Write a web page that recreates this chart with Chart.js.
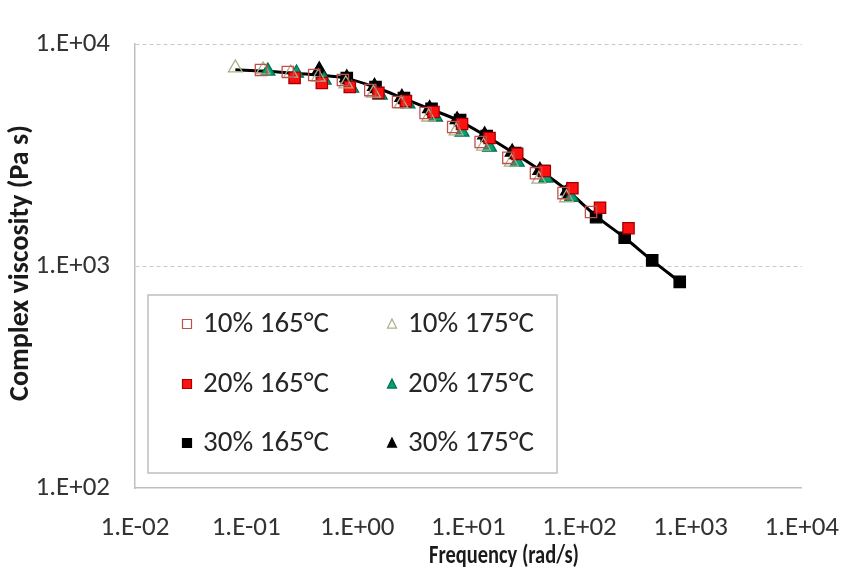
<!DOCTYPE html>
<html>
<head>
<meta charset="utf-8">
<script src="https://cdn.jsdelivr.net/npm/chart.js@4.4.1/dist/chart.umd.min.js"></script>
<style>
  html, body { margin: 0; padding: 0; background: #fff; }
  #wrap { width: 855px; height: 578px; }
</style>
</head>
<body>
<div id="wrap"><canvas id="chart" width="855" height="578"></canvas></div>
<script>
// axis ticks
const xTickValues = [0.01, 0.1, 1, 10, 100, 1000, 10000];
const xTickLabels = ["1.E-02", "1.E-01", "1.E+00", "1.E+01", "1.E+02", "1.E+03", "1.E+04"];
const yTickValues = [100, 1000, 10000];
const yTickLabels = ["1.E+02", "1.E+03", "1.E+04"];

const seriesNames = ["10% 165°C", "10% 175°C", "20% 165°C", "20% 175°C", "30% 165°C", "30% 175°C"];

// frequency (rad/s) and complex viscosity (Pa s)
const freq10_165 = [0.136, 0.237, 0.41, 0.743, 1.31, 2.33, 4.12, 7.3, 12.9, 22.9, 40.6, 71.8, 127];
const visc10_165 = [7640, 7480, 7250, 6880, 6200, 5480, 4890, 4230, 3620, 3070, 2620, 2130, 1750];

const freq10_175 = [0.08, 0.142, 0.252, 0.446, 0.789, 1.4, 2.48, 4.39, 7.76, 13.7, 24.4, 43.1, 76.4];
const visc10_175 = [7800, 7640, 7400, 7100, 6610, 6010, 5370, 4690, 4060, 3470, 2940, 2460, 2030];

const freq20_165 = [0.273, 0.48, 0.857, 1.55, 2.74, 4.85, 8.77, 15.5, 27.5, 48.7, 86.3, 153, 276];
const visc20_165 = [7040, 6670, 6400, 6020, 5530, 4940, 4360, 3770, 3200, 2680, 2240, 1830, 1480];

const freq20_175 = [0.157, 0.284, 0.504, 0.891, 1.61, 2.86, 5.06, 8.77, 15.5, 27.5, 49.8, 84.5];
const visc20_175 = [7550, 7400, 6880, 6330, 5890, 5370, 4690, 4010, 3430, 2940, 2490, 2040];

const freq30_165 = [0.805, 1.46, 2.63, 4.66, 8.43, 14.6, 26.4, 47.8, 79.6, 141, 255, 451, 798];
const visc30_165 = [7030, 6400, 5710, 5100, 4540, 3850, 3230, 2680, 2160, 1660, 1340, 1060, 848];

const freq30_175 = [0.455, 0.805, 1.43, 2.52, 4.48, 7.92, 14.0, 24.8, 44.0, 78.0];
const visc30_175 = [7650, 7050, 6450, 5750, 5120, 4560, 3900, 3260, 2700, 2180];

// master curve drawn through the points
const fitFreq = [0.08, 0.142, 0.25, 0.45, 0.8, 1.43, 2.55, 4.5, 8, 14.3, 25.5, 45, 80, 143, 255, 450, 800];
const fitVisc = [7650, 7550, 7400, 7250, 7000, 6400, 5720, 5100, 4540, 3860, 3230, 2680, 2160, 1670, 1340, 1060, 848];

const FONT = "Carlito, Lato, sans-serif";

function toPoints(xs, ys) {
  return xs.map((x, i) => ({ x, y: ys[i] }));
}

const markerStyles = [
  { shape: "rect", fill: "rgba(0,0,0,0)", stroke: "#C0504D" },
  { shape: "triangle", fill: "rgba(0,0,0,0)", stroke: "#ADAD88" },
  { shape: "rect", fill: "#FF1010", stroke: "#A00000" },
  { shape: "triangle", fill: "#00A276", stroke: "#00704F" },
  { shape: "rect", fill: "#000000", stroke: "#000000" },
  { shape: "triangle", fill: "#000000", stroke: "#000000" },
];

const seriesData = [
  toPoints(freq10_165, visc10_165),
  toPoints(freq10_175, visc10_175),
  toPoints(freq20_165, visc20_165),
  toPoints(freq20_175, visc20_175),
  toPoints(freq30_165, visc30_165),
  toPoints(freq30_175, visc30_175),
];

const datasets = seriesData.map((data, i) => ({
  label: seriesNames[i],
  data,
  showLine: false,
  pointStyle: markerStyles[i].shape,
  pointRadius: 8,
  pointBorderWidth: 1.3,
  pointBackgroundColor: markerStyles[i].fill,
  pointBorderColor: markerStyles[i].stroke,
}));

datasets.push({
  label: "fit",
  data: toPoints(fitFreq, fitVisc),
  showLine: true,
  borderColor: "#000",
  borderWidth: 3,
  pointRadius: 0,
  cubicInterpolationMode: "monotone",
});

function drawMarker(ctx, shape, x, y, size, fill, stroke) {
  ctx.beginPath();
  if (shape === "rect") {
    ctx.rect(x - size / 2, y - size / 2, size, size);
  } else {
    const h = size * 0.9;
    ctx.moveTo(x, y - h / 2 - 1);
    ctx.lineTo(x + size / 2, y + h / 2);
    ctx.lineTo(x - size / 2, y + h / 2);
    ctx.closePath();
  }
  ctx.fillStyle = fill;
  ctx.fill();
  ctx.lineWidth = 1.2;
  ctx.strokeStyle = stroke;
  ctx.stroke();
}

// text squeezed horizontally to a given width, like the reference
function drawFitted(ctx, text, x, y, width) {
  const w = ctx.measureText(text).width;
  ctx.save();
  ctx.translate(x, y);
  ctx.scale(Math.min(1, width / w), 1);
  ctx.fillText(text, 0, 0);
  ctx.restore();
}

const overlay = {
  id: "overlay",
  afterDraw(chart) {
    const ctx = chart.ctx;
    ctx.save();

    // legend box
    ctx.fillStyle = "#fff";
    ctx.fillRect(148, 295, 409, 178);
    ctx.strokeStyle = "#BFBFBF";
    ctx.lineWidth = 1.5;
    ctx.strokeRect(148, 295, 409, 178);

    const colX = [187, 392];
    const rowY = [324, 384, 443];
    ctx.font = "29px " + FONT;
    ctx.textBaseline = "middle";
    ctx.textAlign = "left";
    seriesNames.forEach((name, i) => {
      const cx = colX[i % 2];
      const cy = rowY[Math.floor(i / 2)];
      const m = markerStyles[i];
      drawMarker(ctx, m.shape, cx, cy, 9, m.fill === "rgba(0,0,0,0)" ? "#fff" : m.fill, m.stroke);
      ctx.fillStyle = "#262626";
      ctx.fillText(name, cx + 16, cy + 1);
    });

    // axis titles
    ctx.fillStyle = "#1a1a1a";
    ctx.font = "bold 27px " + FONT;
    ctx.textAlign = "center";
    drawFitted(ctx, "Frequency (rad/s)", 504, 556, 150);

    ctx.translate(21, 263);
    ctx.rotate(-Math.PI / 2);
    ctx.font = "bold 28px " + FONT;
    ctx.fillText("Complex viscosity (Pa s)", 0, 0);
    ctx.restore();
  },
};

new Chart(document.getElementById("chart"), {
  type: "scatter",
  data: { datasets },
  options: {
    responsive: false,
    animation: false,
    devicePixelRatio: 1,
    layout: { padding: { top: 44, right: 43, left: 0, bottom: 0 } },
    plugins: {
      legend: { display: false },
      tooltip: { enabled: false },
    },
    scales: {
      x: {
        type: "logarithmic",
        min: 0.01,
        max: 10000,
        afterBuildTicks: (scale) => {
          scale.ticks = xTickValues.map((value) => ({ value }));
        },
        afterFit: (scale) => {
          scale.height = 90;
        },
        ticks: {
          autoSkip: false,
          maxRotation: 0,
          padding: 16,
          color: "#333",
          font: { family: FONT, size: 27 },
          callback: (value) => xTickLabels[xTickValues.indexOf(value)],
        },
        grid: { display: false },
        border: { display: true, color: "#BFBFBF", width: 1.5 },
      },
      y: {
        type: "logarithmic",
        min: 100,
        max: 10000,
        afterBuildTicks: (scale) => {
          scale.ticks = yTickValues.map((value) => ({ value }));
        },
        afterFit: (scale) => {
          scale.width = 135;
        },
        ticks: {
          padding: 25,
          color: "#333",
          font: { family: FONT, size: 27 },
          callback: (value) => yTickLabels[yTickValues.indexOf(value)],
        },
        grid: {
          drawTicks: false,
          lineWidth: 1,
          color: (ctx) => (ctx.tick && ctx.tick.value === 100 ? "rgba(0,0,0,0)" : "#C8C8C8"),
        },
        border: { display: true, color: "#BFBFBF", width: 1.5, dash: [4, 3] },
      },
    },
  },
  plugins: [overlay],
});
</script>
</body>
</html>
